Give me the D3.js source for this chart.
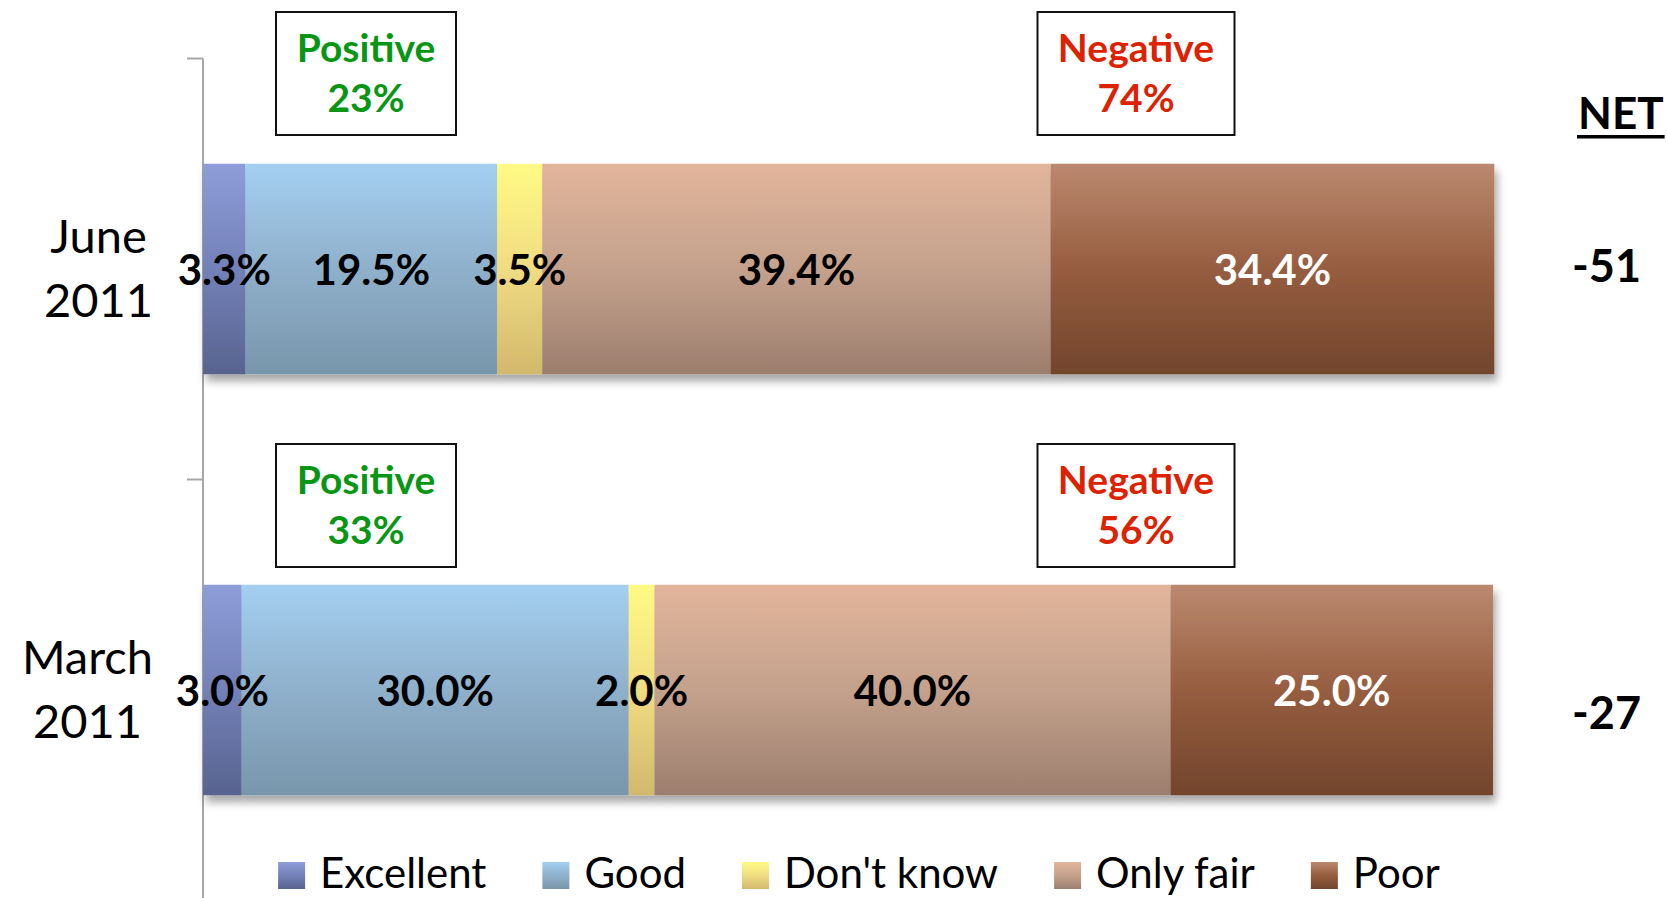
<!DOCTYPE html>
<html>
<head>
<meta charset="utf-8">
<script src="https://cdn.jsdelivr.net/npm/d3@7"></script>
<style>
  html, body { margin: 0; padding: 0; background: #fff; }
  svg { display: block; font-family: Lato, "Open Sans", sans-serif; }
</style>
</head>
<body>
<svg id="chart" width="1667" height="898"></svg>
<script>
// data
var periods = ["June 2011", "March 2011"];
var seriesNames = ["Excellent", "Good", "Don't know", "Only fair", "Poor"];
var excellent = [3.3, 3.0];
var good = [19.5, 30.0];
var dontKnow = [3.5, 2.0];
var onlyFair = [39.4, 40.0];
var poor = [34.4, 25.0];
var positiveTotals = ["23%", "33%"];
var negativeTotals = ["74%", "56%"];
var netValues = ["-51", "-27"];

// gradient stops per series (top, middle, bottom)
var gradStops = [
  ["#8e9dd8", "#7381b8", "#58638f"],
  ["#a4cff1", "#8fb0cb", "#7896ab"],
  ["#fffa84", "#f0dc82", "#d2b86c"],
  ["#e2b59b", "#c4a18c", "#9c7e6e"],
  ["#bb8970", "#965d40", "#72452c"]
];
var labelColors = ["#000", "#000", "#000", "#000", "#fff"];

var svg = d3.select("#chart");
var width = 1667, height = 898;

var x = d3.scaleLinear().domain([0, 100]).range([203, 1493]);
var y = d3.scaleBand().domain(periods).range([58.5, 900.5])
  .paddingInner(0.5).paddingOuter(0.25);

var defs = svg.append("defs");
seriesNames.forEach(function(s, i){
  var g = defs.append("linearGradient").attr("id", "grad" + i)
    .attr("x1", 0).attr("y1", 0).attr("x2", 0).attr("y2", 1);
  g.append("stop").attr("offset", "0%").attr("stop-color", gradStops[i][0]);
  g.append("stop").attr("offset", "50%").attr("stop-color", gradStops[i][1]);
  g.append("stop").attr("offset", "100%").attr("stop-color", gradStops[i][2]);
});
var f = defs.append("filter").attr("id", "shadow")
  .attr("x", "-5%").attr("y", "-10%").attr("width", "115%").attr("height", "130%");
f.append("feDropShadow").attr("dx", 3).attr("dy", 7).attr("stdDeviation", 4)
  .attr("flood-color", "#000").attr("flood-opacity", 0.35);

// build stacked rows
var rows = periods.map(function(p, i){
  return { period: p, Excellent: excellent[i], Good: good[i], "Don't know": dontKnow[i],
           "Only fair": onlyFair[i], Poor: poor[i] };
});
var stack = d3.stack().keys(seriesNames)(rows);

// axis line and ticks at category boundaries
var step = y.step(), gapHalf = (step - y.bandwidth()) / 2;
svg.append("line")
  .attr("x1", x(0)).attr("x2", x(0))
  .attr("y1", y(periods[0]) - gapHalf).attr("y2", height)
  .attr("stroke", "#a6a6a6").attr("stroke-width", 2);
var tickYs = periods.map(function(p){ return y(p) - gapHalf; });
svg.selectAll(".tick").data(tickYs).enter().append("line")
  .attr("x1", x(0) - 16).attr("x2", x(0))
  .attr("y1", function(d){ return d; }).attr("y2", function(d){ return d; })
  .attr("stroke", "#a6a6a6").attr("stroke-width", 2);

// bars
var barGroup = svg.append("g").attr("filter", "url(#shadow)");
stack.forEach(function(layer, i){
  barGroup.selectAll(".s" + i).data(layer).enter().append("rect")
    .attr("x", function(d){ return x(d[0]); })
    .attr("width", function(d){ return x(d[1]) - x(d[0]); })
    .attr("y", function(d){ return y(d.data.period); })
    .attr("height", y.bandwidth())
    .attr("fill", "url(#grad" + i + ")");
});

// data labels
stack.forEach(function(layer, i){
  svg.selectAll(".l" + i).data(layer).enter().append("text")
    .attr("x", function(d){ return (x(d[0]) + x(d[1])) / 2; })
    .attr("y", function(d){ return y(d.data.period) + y.bandwidth() / 2 + 16; })
    .attr("text-anchor", "middle")
    .attr("font-size", 42).attr("font-weight", "bold")
    .attr("fill", labelColors[i])
    .text(function(d){ return (d[1] - d[0]).toFixed(1) + "%"; });
});

// category labels (two lines, block right aligned)
periods.forEach(function(p){
  var parts = p.split(" ");
  var cy = y(p) + y.bandwidth() / 2;
  var g = svg.append("g");
  var t = parts.map(function(line, k){
    return g.append("text").attr("font-size", 47).attr("fill", "#000")
      .attr("text-anchor", "middle")
      .attr("y", cy - 16.5 + k * 64).text(line);
  });
  var w = d3.max(t, function(n){ return n.node().getComputedTextLength(); });
  t.forEach(function(n){ n.attr("x", 153 - w / 2); });
});

// positive / negative boxes
var boxTops = [12, 444];
var boxes = [
  { cx: 366, w: 180, title: "Positive", vals: positiveTotals, color: "#0a9615" },
  { cx: 1136, w: 197, title: "Negative", vals: negativeTotals, color: "#dc2200" }
];
periods.forEach(function(p, i){
  boxes.forEach(function(b){
    svg.append("rect")
      .attr("x", b.cx - b.w / 2).attr("y", boxTops[i])
      .attr("width", b.w).attr("height", 123)
      .attr("fill", "#fff").attr("stroke", "#111").attr("stroke-width", 2);
    svg.append("text").attr("x", b.cx).attr("y", boxTops[i] + 50)
      .attr("text-anchor", "middle").attr("font-size", 39).attr("font-weight", "bold")
      .attr("fill", b.color).text(b.title);
    svg.append("text").attr("x", b.cx).attr("y", boxTops[i] + 100)
      .attr("text-anchor", "middle").attr("font-size", 39).attr("font-weight", "bold")
      .attr("fill", b.color).text(b.vals[i]);
  });
});

// NET column
var netHead = svg.append("text").attr("x", 1578).attr("y", 129)
  .attr("font-size", 44).attr("font-weight", "bold").attr("fill", "#000").text("NET");
var hb = netHead.node().getBBox();
svg.append("rect").attr("x", hb.x - 1).attr("y", 135)
  .attr("width", hb.width + 2).attr("height", 3.5).attr("fill", "#000");
var netOffsets = [12.5, 38.5];
svg.selectAll(".net").data(netValues).enter().append("text")
  .attr("x", 1572)
  .attr("y", function(d, i){ return y(periods[i]) + y.bandwidth() / 2 + netOffsets[i]; })
  .attr("font-size", 45).attr("font-weight", "bold").attr("fill", "#000")
  .text(function(d){ return d; });

// legend
var legend = svg.append("g");
var lx = 0;
seriesNames.forEach(function(s, i){
  var item = legend.append("g").attr("transform", "translate(" + lx + ",0)");
  item.append("rect").attr("x", 0).attr("y", 862).attr("width", 27).attr("height", 27)
    .attr("fill", "url(#grad" + i + ")");
  var t = item.append("text").attr("x", 42).attr("y", 888)
    .attr("font-size", 42).attr("fill", "#000").text(s);
  lx += 42 + t.node().getComputedTextLength() + 56;
});
var legendWidth = lx - 56;
legend.attr("transform", "translate(" + (859 - legendWidth / 2) + ",0)");
</script>
</body>
</html>
